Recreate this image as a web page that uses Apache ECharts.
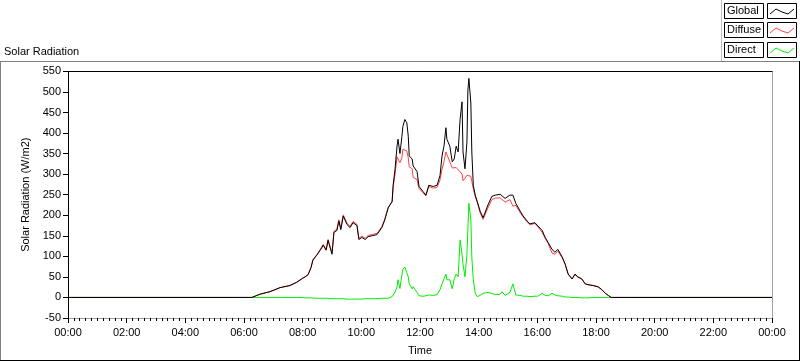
<!DOCTYPE html>
<html>
<head>
<meta charset="utf-8">
<script src="https://cdn.jsdelivr.net/npm/echarts@6/dist/echarts.min.js"></script>
<style>
  html, body { margin: 0; padding: 0; background: #fff; }
  #chart { width: 800px; height: 361px; }
</style>
</head>
<body>
<div id="chart"></div>
<script>
// minutes of the day
const times = [0, 376, 393, 413, 434, 454, 468, 479, 485, 491, 497, 501, 509, 516, 522, 528, 532, 536, 540, 544, 550, 554, 558, 563, 571, 577, 583, 591, 595, 601, 608, 614, 622, 632, 642, 648, 655, 663, 665, 669, 673, 675, 679, 683, 685, 689, 693, 696, 698, 704, 706, 714, 718, 726, 732, 738, 747, 755, 761, 765, 769, 773, 775, 781, 786, 790, 794, 798, 802, 806, 808, 812, 816, 818, 820, 824, 826, 829, 833, 837, 843, 849, 853, 859, 867, 874, 884, 888, 894, 904, 910, 916, 925, 931, 939, 945, 955, 961, 970, 976, 982, 990, 996, 1002, 1011, 1017, 1023, 1031, 1037, 1043, 1051, 1058, 1064, 1074, 1084, 1092, 1099, 1105, 1111, 1440]

const globalVals = [0, 0, 8, 14, 24, 29, 37, 46, 50, 55, 72, 91, 103, 115, 127, 115, 139, 141, 105, 158, 163, 186, 165, 198, 177, 170, 182, 175, 141, 146, 141, 148, 150, 153, 170, 189, 218, 234, 273, 313, 368, 385, 350, 392, 416, 433, 425, 392, 344, 337, 320, 306, 270, 258, 249, 273, 270, 273, 297, 344, 368, 413, 385, 368, 330, 337, 368, 354, 433, 476, 354, 313, 378, 505, 533, 473, 354, 273, 249, 234, 210, 194, 198, 225, 246, 249, 251, 253, 241, 249, 249, 229, 210, 198, 186, 179, 182, 174, 163, 146, 134, 117, 110, 117, 98, 81, 57, 45, 57, 50, 45, 33, 31, 29, 26, 19, 10, 5, 0, 0]

const diffuseVals = [0, 0, 8, 14, 24, 29, 37, 46, 50, 56, 73, 92, 104, 117, 129, 117, 141, 144, 108, 161, 166, 189, 168, 201, 180, 173, 185, 178, 144, 149, 144, 151, 153, 156, 172, 191, 220, 232, 268, 300, 342, 344, 328, 340, 361, 358, 356, 340, 318, 313, 292, 287, 265, 255, 247, 270, 266, 268, 286, 312, 330, 354, 348, 330, 315, 313, 316, 318, 306, 300, 284, 290, 297, 300, 301, 295, 282, 265, 245, 232, 206, 190, 191, 218, 238, 242, 242, 240, 232, 238, 222, 224, 206, 196, 184, 177, 180, 172, 158, 144, 132, 108, 105, 113, 96, 80, 57, 45, 55, 49, 45, 33, 31, 29, 26, 19, 10, 5, 0, 0]

const directVals = [0, 0, 0, 0, 0, 0, 0, 0, -1, -1, -1, -1, -2, -2, -2, -2, -2, -3, -3, -3, -3, -3, -3, -3, -4, -4, -4, -4, -4, -4, -3, -3, -3, -3, -2, -2, -2, 2, 5, 13, 26, 43, 22, 55, 69, 74, 60, 50, 33, 21, 26, 12, 4, 3, 4, 6, 5, 7, 19, 33, 45, 57, 43, 43, 21, 45, 57, 50, 140, 105, 81, 50, 105, 170, 229, 190, 98, 43, 10, 2, 5, 10, 14, 12, 10, 7, 8, 14, 5, 12, 33, 6, 5, 3, 3, 2, 3, 3, 10, 5, 4, 10, 6, 4, 3, 1, 1, 0, 0, 0, -1, -1, -1, 0, 0, 0, 0, 0, 0, 0]

const seriesNames = ['Global', 'Diffuse', 'Direct']
const seriesColors = ['#000000', '#ff4040', '#00ee00']

const font = 'Liberation Sans'
const grayLine = '#a0a0a0'

const chart = echarts.init(document.getElementById('chart'))

const pairs = vals => times.map((t, i) => [t, vals[i]])

const fmtTime = m => {
  const h = Math.floor(m / 60) % 24
  const mm = m % 60
  return String(h).padStart(2, '0') + ':' + String(mm).padStart(2, '0')
}

// legend drawn as boxes, like the original front panel
const legendItems = []
seriesNames.forEach((name, i) => {
  const y = [3, 22, 42][i]
  legendItems.push({
    type: 'rect',
    shape: { x: 724.5, y: y + 0.5, width: 39, height: 15 },
    style: { fill: '#fff', stroke: '#000', lineWidth: 1 }
  })
  legendItems.push({
    type: 'text',
    x: 727, y: y + 8,
    style: { text: name, font: '11px ' + font, fill: '#000', verticalAlign: 'middle' }
  })
  legendItems.push({
    type: 'rect',
    shape: { x: 767.5, y: y + 0.5, width: 29, height: 15 },
    style: { fill: '#fff', stroke: '#000', lineWidth: 1 }
  })
  legendItems.push({
    type: 'polyline',
    shape: { points: [[770, y + 11], [776, y + 6], [782, y + 9], [788, y + 11], [794, y + 6]] },
    style: { stroke: seriesColors[i], lineWidth: 1, fill: null }
  })
})

const option = {
  backgroundColor: '#fff',
  animation: false,
  textStyle: { fontFamily: font },
  grid: { left: 68, top: 71.4, right: 28, bottom: 38.6 },
  graphic: [
    // panel frame
    { type: 'line', shape: { x1: 0, y1: 61.5, x2: 800, y2: 61.5 }, style: { stroke: '#808080', lineWidth: 1 } },
    { type: 'line', shape: { x1: 0.5, y1: 61, x2: 0.5, y2: 361 }, style: { stroke: '#808080', lineWidth: 1 } },
    { type: 'line', shape: { x1: 0, y1: 360.5, x2: 800, y2: 360.5 }, style: { stroke: '#000', lineWidth: 1 } },
    { type: 'line', shape: { x1: 799.5, y1: 61, x2: 799.5, y2: 361 }, style: { stroke: '#000', lineWidth: 1 } },
    { type: 'line', shape: { x1: 721.5, y1: 0, x2: 721.5, y2: 61 }, style: { stroke: '#c0c0c0', lineWidth: 1 } },
    {
      type: 'text', left: 4, top: 46,
      style: { text: 'Solar Radiation', font: '11px ' + font, fill: '#000' }
    },
    ...legendItems
  ],
  xAxis: [
    {
      type: 'value',
      min: 0,
      max: 1440,
      interval: 120,
      name: 'Time',
      nameLocation: 'middle',
      nameGap: 27,
      nameTextStyle: { color: '#000', fontSize: 11, fontFamily: font },
      axisLine: { onZero: false, lineStyle: { color: grayLine, width: 1 } },
      axisTick: { length: 5, lineStyle: { color: '#000' } },
      minorTick: { show: true, splitNumber: 10, length: 3, lineStyle: { color: '#000' } },
      axisLabel: {
        color: '#000', fontSize: 11, fontFamily: font, margin: 9,
        formatter: v => fmtTime(v)
      },
      splitLine: { show: false }
    },
    {
      type: 'value',
      position: 'top',
      min: 0,
      max: 1440,
      axisLine: { onZero: false, lineStyle: { color: '#000', width: 1 } },
      axisTick: { show: false },
      axisLabel: { show: false },
      splitLine: { show: false }
    }
  ],
  yAxis: [
    {
      type: 'value',
      min: -50,
      max: 550,
      interval: 50,
      name: 'Solar Radiation (W/m2)',
      nameLocation: 'middle',
      nameGap: 29,
      nameTextStyle: { color: '#000', fontSize: 11, fontFamily: font },
      axisLine: { show: true, onZero: false, lineStyle: { color: '#000', width: 1 } },
      axisTick: { show: true, length: 5, lineStyle: { color: '#000' } },
      axisLabel: { color: '#000', fontSize: 11, fontFamily: font, margin: 7 },
      splitLine: { show: false }
    },
    {
      type: 'value',
      position: 'right',
      min: -50,
      max: 550,
      axisLine: { show: true, onZero: false, lineStyle: { color: grayLine, width: 1 } },
      axisTick: { show: false },
      axisLabel: { show: false },
      splitLine: { show: false }
    }
  ],
  series: [
    {
      name: 'Direct', type: 'line', data: pairs(directVals),
      showSymbol: false, lineStyle: { color: seriesColors[2], width: 1 }
    },
    {
      name: 'Diffuse', type: 'line', data: pairs(diffuseVals),
      showSymbol: false, lineStyle: { color: seriesColors[1], width: 1 }
    },
    {
      name: 'Global', type: 'line', data: pairs(globalVals),
      showSymbol: false, lineStyle: { color: seriesColors[0], width: 1 }
    }
  ]
}

chart.setOption(option)
</script>
</body>
</html>
